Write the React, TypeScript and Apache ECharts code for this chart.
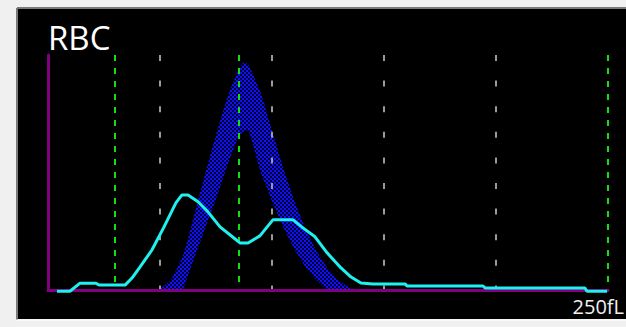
import React, { useEffect, useRef } from "react";
import * as echarts from "echarts";

// RBC histogram (x in fL, y in relative counts 0..100)
const bandX = [50, 55, 60, 62.5, 65, 70, 75, 80, 85, 87.5, 89, 90, 95, 100, 105, 110, 115, 120, 125, 130, 135, 140];
const bandOuter = [0.5, 4.5, 14, 22, 31, 49, 66, 82, 94, 97, 96.3, 95, 84, 68, 52, 38, 26, 16.5, 9, 4, 1, 0];
const bandInner = [0, 0, 0, 6.4, 13, 26, 39, 53, 65.5, 67.7, 68, 67, 50, 38, 27, 17.5, 9.9, 4.2, 0, 0, 0, 0];

const cyanX = [4.0, 9.8, 14.3, 21.4, 22.8, 34.4, 37.5, 41.1, 46.4, 51.8, 57.1, 59.8, 62.5, 67, 71.4, 76.8, 83, 85.7, 89.3, 94.6, 100.4, 109.4, 113.8, 119.2, 124.6, 130.8, 135.3, 139.7, 145.1, 159.4, 160.3, 194.2, 195.1, 239.7, 240.6, 249.6];
const cyanY = [-0.3, -0.3, 3.1, 3.1, 2.3, 2.3, 5.3, 10, 17.2, 27, 37.2, 40.6, 40.6, 37.7, 33.4, 27, 22.3, 20.2, 20.2, 23.2, 30, 30, 26.6, 22.8, 16, 9.6, 5.7, 3.2, 2.8, 2.8, 1.9, 1.9, 1.1, 1.1, -0.3, -0.3];

const grayLines = [50, 100, 150, 200];
const greenLines = [30, 85, 250];

const xMax = 250;
const yMax = 100;
const title = "RBC";
const unitLabel = "250fL";

export default function App() {
  const ref = useRef<HTMLDivElement>(null);
  useEffect(() => {
    document.body.style.margin = "0";
    if (!ref.current) return;
    const chart = echarts.init(ref.current, undefined, { renderer: "svg" });

    const c = document.createElement("canvas");
    c.width = 4;
    c.height = 4;
    const ctx = c.getContext("2d")!;
    ctx.fillStyle = "#000030";
    ctx.fillRect(0, 0, 4, 4);
    ctx.fillStyle = "#1010ff";
    ctx.fillRect(0, 0, 2, 2);
    ctx.fillRect(2, 2, 2, 2);
    const pattern: any = { image: c, repeat: "repeat", imageWidth: 4, imageHeight: 4 };

    const vline = (v: number) => [
      { coord: [v, yMax] },
      { coord: [v, 0] },
    ];

    const axisCommon = {
      z: 8,
      axisLine: { show: true, lineStyle: { color: "#800080", width: 3 } },
      axisTick: { show: false },
      axisLabel: { show: false },
      splitLine: { show: false },
    };

    chart.setOption({
      animation: false,
      backgroundColor: "#f0f0f0",
      grid: { left: 48, right: 18, top: 55, bottom: 36.5 },
      xAxis: { type: "value", min: 0, max: xMax, ...axisCommon },
      yAxis: { type: "value", min: 0, max: yMax, ...axisCommon },
      graphic: [
        { type: "rect", z: -10, shape: { x: 18, y: 8, width: 608, height: 311 }, style: { fill: "#000000" } },
        { type: "line", z: -9, shape: { x1: 17, y1: 8, x2: 626, y2: 8 }, style: { stroke: "#7a7a7a", lineWidth: 2 } },
        { type: "line", z: -9, shape: { x1: 17, y1: 8, x2: 17, y2: 320 }, style: { stroke: "#7a7a7a", lineWidth: 2 } },
        { type: "line", z: -9, shape: { x1: 16, y1: 320, x2: 626, y2: 320 }, style: { stroke: "#ffffff", lineWidth: 1 } },
        {
          type: "text",
          z: 100,
          x: 48,
          y: 37,
          style: { text: title, fill: "#ffffff", font: "33px 'Open Sans'", align: "left", verticalAlign: "middle" },
        },
        {
          type: "text",
          z: 100,
          x: 624,
          y: 306,
          style: { text: unitLabel, fill: "#f0f0f0", font: "20px 'Open Sans'", align: "right", verticalAlign: "middle" },
        },
      ],
      series: [
        {
          type: "line",
          name: "outer",
          data: bandX.map((x, i) => [x, bandOuter[i]]),
          symbol: "none",
          lineStyle: { width: 0, opacity: 0 },
          areaStyle: { color: pattern, opacity: 1 },
          silent: true,
          z: 2,
        },
        {
          type: "line",
          name: "inner",
          data: bandX.map((x, i) => [x, bandInner[i]]),
          symbol: "none",
          lineStyle: { width: 0, opacity: 0 },
          areaStyle: { color: "#000000", opacity: 1 },
          silent: true,
          z: 3,
          markLine: {
            silent: true,
            symbol: ["none", "none"],
            label: { show: false },
            z: 5,
            data: [
              ...grayLines.map((v) => {
                const d: any = vline(v);
                d[0].lineStyle = { color: "#9a9a9a", width: 2, type: [6, 19.6] };
                return d;
              }),
              ...greenLines.map((v) => {
                const d: any = vline(v);
                d[0].lineStyle = { color: "#10e010", width: 2, type: [6, 7] };
                return d;
              }),
            ],
          },
        },
        {
          type: "line",
          name: "cyan",
          data: cyanX.map((x, i) => [x, cyanY[i]]),
          symbol: "none",
          clip: false,
          lineStyle: { color: "#1ff0f0", width: 3 },
          silent: true,
          z: 10,
        },
      ],
    });
    return () => chart.dispose();
  }, []);
  return <div ref={ref} style={{ width: 626, height: 327 }} />;
}
